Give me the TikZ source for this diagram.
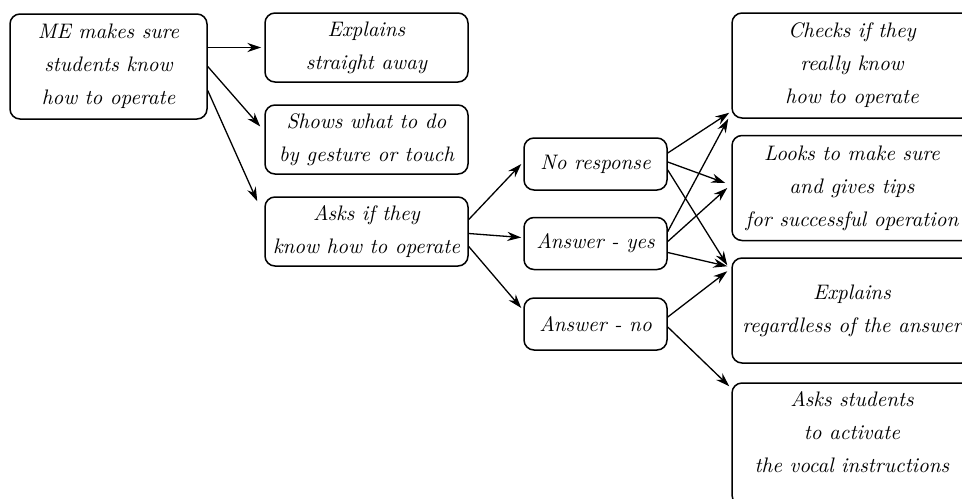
\documentclass[tikz,border=0pt]{standalone}
\usepackage{tikz}
\usetikzlibrary{calc,arrows.meta}

\begin{document}
\begin{tikzpicture}[x=0.5pt, y=-0.5pt,
    box/.style={draw, line width=0.75pt, rounded corners=5pt, align=center, inner sep=0pt,
                font=\fontsize{10.5}{16.5}\selectfont\itshape},
    lbox/.style={box, minimum width=98.5pt, minimum height=52.5pt},
    mbox/.style={box, minimum width=101.5pt, minimum height=34.5pt},
    abox/.style={box, minimum width=71.5pt, minimum height=26pt},
    rbox/.style={box, minimum width=120pt, minimum height=52.5pt},
    arr/.style={line width=0.65pt, -{Stealth[length=7pt, width=4.6pt]}}]

    \useasboundingbox (0,0) rectangle (962,498);
    \clip (0,0) rectangle (962,498);

% Draw the boxes
\node[lbox] (me) at (108.5,66.5) {ME makes sure\\students know\\how to operate};

\node[mbox] (expl)  at (366.5,47.5)  {Explains\\straight away};
\node[mbox] (shows) at (366.5,139.5) {Shows what to do\\by gesture or touch};
\node[mbox] (asks)  at (366.5,231.5) {Asks if they\\know how to operate};

\node[abox] (nores) at (595.5,164)   {No response};
\node[abox] (yes)   at (595.5,243.5) {Answer - yes};
\node[abox] (no)    at (595.5,324)   {Answer - no};

\node[rbox] (checks) at (852,65.5)  {Checks if they\\really know\\how to operate};
\node[rbox] (looks)  at (852,188)   {Looks to make sure\\and gives tips\\for successful operation};
\node[rbox] (regard) at (852,310.5) {Explains\\regardless of the answer};
\node[rbox, minimum height=61pt, text depth=12pt] (actv) at (852,444)
    {Asks students\\to activate\\the vocal instructions};

% Draw the arrows out of the first box
\draw[arr] (me.east |- expl.west) -- ($(expl.west)+(-3,0)$);
\draw[arr] (me.east) -- ($(shows.west)+(-4,-13)$);
\draw[arr] ($(me.east)+(0,24)$) -- ($(asks.north west)+(-7,5)$);

% Draw the arrows to the answers
\draw[arr] ($(asks.east)+(0,-12)$) -- ($(nores.west)+(-2,0)$);
\draw[arr] ($(asks.east)+(0,2)$)   -- ($(yes.west)+(-2,-6)$);
\draw[arr] ($(asks.east)+(0,15)$)  -- ($(no.west)+(-2,-16)$);

% Draw the arrows from the answers
\draw[arr] ($(nores.east)+(0,-11)$) -- ($(checks.south west)+(-2,-6)$);
\draw[arr] ($(nores.east)+(0,-2)$)  -- ($(looks.west)+(-6,-5)$);
\draw[arr] ($(nores.east)+(0,6)$)   -- ($(regard.north west)+(-4,8)$);

\draw[arr] ($(yes.east)+(0,-12)$) -- ($(checks.south west)+(-3,0)$);
\draw[arr] ($(yes.east)+(0,-2)$)  -- ($(looks.west)+(-4,0)$);
\draw[arr] ($(yes.east)+(0,9)$)   -- ($(regard.north west)+(-4,9)$);

\draw[arr] ($(no.east)+(0,-7)$) -- ($(regard.north west)+(-4,14)$);
\draw[arr] ($(no.east)+(0,3)$)  -- ($(actv.north west)+(-2,4)$);

\end{tikzpicture}
\end{document}
